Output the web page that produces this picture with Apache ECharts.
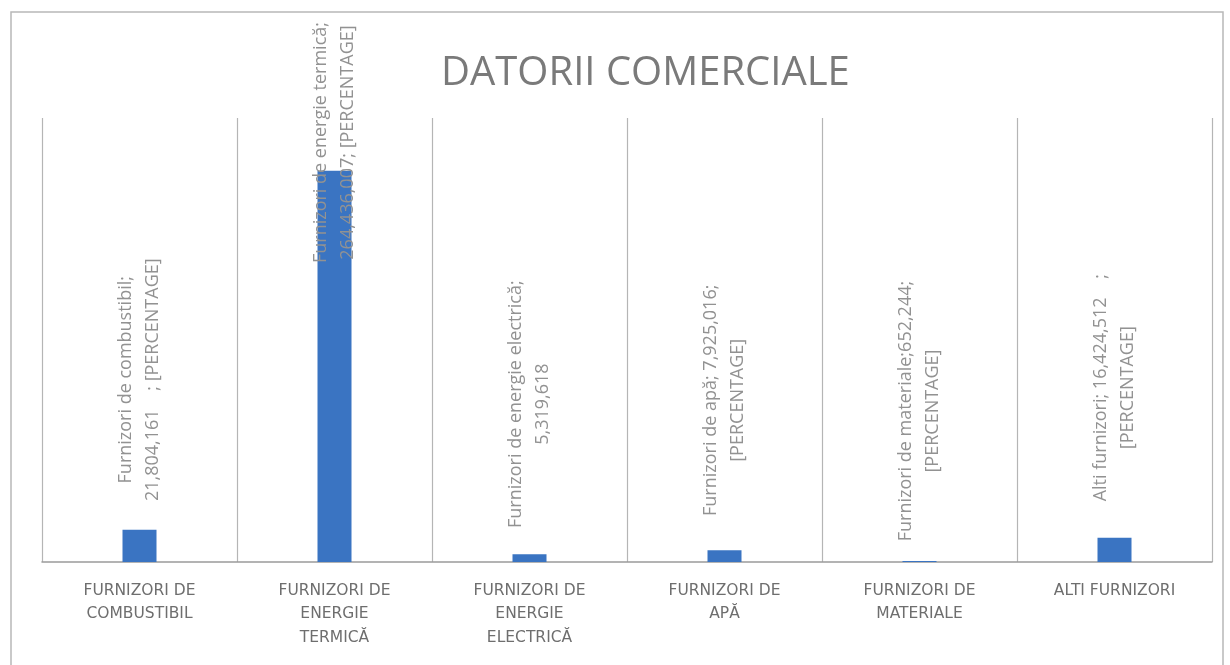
<!DOCTYPE html>
<html>
<head>
<meta charset="utf-8">
<script src="https://cdn.jsdelivr.net/npm/echarts@6/dist/echarts.min.js"></script>
<style>
  html, body { margin: 0; padding: 0; background: #fff; }
  #main { width: 1230px; height: 665px; }
</style>
</head>
<body>
<div id="main"></div>
<script>
// categorii (axa X)
const categories = [
  'FURNIZORI DE\nCOMBUSTIBIL',
  'FURNIZORI DE\nENERGIE\nTERMICĂ',
  'FURNIZORI DE\nENERGIE\nELECTRICĂ',
  'FURNIZORI DE\nAPĂ',
  'FURNIZORI DE\nMATERIALE',
  'ALTI FURNIZORI'
];

// valori datorii
const values = [21804161, 264436007, 5319618, 7925016, 652244, 16424512];

// etichete de date, cum apar in grafic
const labelTexts = [
  'Furnizori de combustibil;\n21,804,161    ; [PERCENTAGE]',
  'Furnizori de energie termică;\n264,436,007; [PERCENTAGE]',
  'Furnizori de energie electrică;\n5,319,618',
  'Furnizori de apă; 7,925,016;\n[PERCENTAGE]',
  'Furnizori de materiale;652,244;\n[PERCENTAGE]',
  'Alti furnizori; 16,424,512    ;\n[PERCENTAGE]'
];

let chartDom = document.getElementById('main');
let myChart = echarts.init(chartDom);
let option;

option = {
  animation: false,
  backgroundColor: '#fff',
  title: {
    text: 'DATORII COMERCIALE',
    left: 436,
    top: 49,
    textStyle: {
      fontFamily: 'Open Sans',
      fontSize: 40,
      fontWeight: 'normal',
      color: '#7a7a7a'
    }
  },
  graphic: [{
    type: 'rect',
    shape: { x: 11, y: 12, width: 1212, height: 700 },
    style: { fill: 'none', stroke: '#b8b8b8', lineWidth: 1.5 },
    silent: true
  }],
  grid: {
    left: 42,
    right: 18,
    top: 118,
    bottom: 103
  },
  xAxis: {
    type: 'category',
    data: categories,
    axisTick: { show: false },
    axisLine: { lineStyle: { color: '#9a9a9a', width: 1.5 } },
    splitLine: {
      show: true,
      lineStyle: { color: '#b5b5b5', width: 1.2 }
    },
    axisLabel: {
      margin: 17,
      interval: 0,
      fontFamily: 'DejaVu Sans',
      fontSize: 15.5,
      lineHeight: 23.5,
      color: '#6e6e6e'
    }
  },
  yAxis: {
    type: 'value',
    min: 0,
    max: 300000000,
    show: false,
    splitLine: { show: false }
  },
  series: [
    {
      type: 'bar',
      data: values,
      barWidth: 34,
      itemStyle: { color: '#3a74c2' },
      label: {
        show: true,
        position: 'top',
        distance: 150,
        rotate: 90,
        align: 'center',
        verticalAlign: 'middle',
        fontFamily: 'Open Sans',
        fontSize: 18,
        lineHeight: 27,
        color: '#929292',
        formatter: p => labelTexts[p.dataIndex]
      },
      labelLayout: function (p) {
        // eticheta iese prin partea de sus: o coboram, ca in Excel
        if (p.labelRect.y < 2) {
          return {
            x: p.labelRect.x + p.labelRect.width / 2,
            y: p.labelRect.height / 2 + 22
          };
        }
      }
    }
  ]
};

option && myChart.setOption(option);
</script>
</body>
</html>
